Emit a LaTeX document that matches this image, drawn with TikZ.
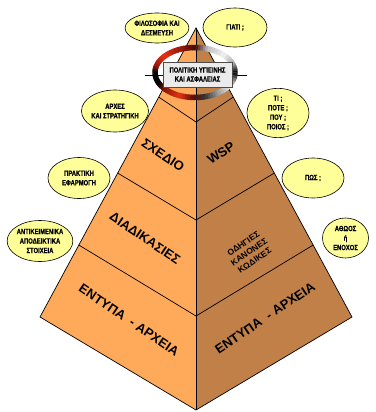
\documentclass[tikz,border=0pt]{standalone}
\usepackage{fontspec}
\setmainfont{Liberation Sans}
\newfontfamily\nar[FakeStretch=0.78, BoldFeatures={FakeBold=0.6}]{Liberation Sans}
\usetikzlibrary{shapes.geometric,calc}
\definecolor{lface}{RGB}{255,170,90}
\definecolor{rface}{RGB}{192,128,72}
\definecolor{yel}{RGB}{255,255,153}
\definecolor{rred}{RGB}{228,50,20}
\definecolor{dred}{RGB}{150,25,10}
\tikzset{
  lbl/.style={ellipse, draw=black, line width=0.6pt, fill=yel, inner sep=0pt,
    font=\nar\bfseries\fontsize{7.5}{9.5}\selectfont, align=center},
  big/.style={font=\bfseries\fontsize{13}{15}\selectfont, inner sep=0pt},
  mid/.style={font=\bfseries\fontsize{8.5}{10}\selectfont, align=center, inner sep=0pt},
  edge/.style={draw=black, line width=0.7pt},
}
\begin{document}
\begin{tikzpicture}[x=1pt,y=-1pt]
\useasboundingbox (0,0) rectangle (375,412);
% pyramid corners
\coordinate (A) at (196,28);
\coordinate (L) at (40,317);
\coordinate (B) at (196,410);
\coordinate (R) at (352,317);
\coordinate (c1) at (196,122);
\coordinate (c2) at (196,220);
\coordinate (c3) at (196,316);
\coordinate (p1) at ($(A)!0.239!(L)$);
\coordinate (p2) at ($(A)!0.502!(L)$);
\coordinate (p3) at ($(A)!0.751!(L)$);
\coordinate (q1) at ($(A)!0.239!(R)$);
\coordinate (q2) at ($(A)!0.502!(R)$);
\coordinate (q3) at ($(A)!0.751!(R)$);
\fill[lface] (A) -- (L) -- (B) -- cycle;
\fill[rface] (A) -- (R) -- (B) -- cycle;
\draw[edge, line join=miter] (A) -- (L) -- (B) -- (R) -- cycle;
\draw[edge] (A) -- (B);
\draw[edge] (p1) -- (c1) -- (q1);
\draw[edge] (p2) -- (c2) -- (q2);
\draw[edge] (p3) -- (c3) -- (q3);
% texts on faces
\node[big, rotate=-34] (t1) at (163,155) {ΣΧΕΔΙΟ};
\node[big, rotate=34] (t2) at (221,153) {WSP};
\node[big, rotate=-34] (t3) at (145,238) {ΔΙΑΔΙΚΑΣΙΕΣ};
\node[mid, rotate=34] (t4) at (249,252) {ΟΔΗΓΙΕΣ\\ΚΑΝΟΝΕΣ\\ΚΩΔΙΚΕΣ};
\node[big, rotate=-34] (t5) at (129,320) {ΕΝΤΥΠΑ\hspace{0.3em} - ΑΡΧΕΙΑ};
\node[big, rotate=34] (t6) at (265,318) {ΕΝΤΥΠΑ\hspace{0.3em} - ΑΡΧΕΙΑ};
% ring
\coordinate (hl) at (145,75);
\coordinate (hr) at (247,75);
\draw[black, line width=0.8pt] (hl) -- (hr);
\foreach \a/\b/\ca/\cb in {
  0/20/black/black!35,
  20/45/black!35/black!5,
  45/72/black!5/black!25,
  72/90/black!25/dred!40!black,
  90/110/dred!40!black/dred,
  110/140/dred/rred,
  140/165/rred/dred,
  165/182/dred/black,
  182/205/black/black,
  205/225/black/dred,
  225/248/dred/rred,
  248/268/rred/dred!60!black,
  268/285/dred!60!black/black!80,
  285/305/black!80/black!40,
  305/330/black!40/black!5,
  330/360/black!5/black} {
  \colorlet{cola}{\ca}
  \colorlet{colb}{\cb}
  \foreach \i in {0,...,4} {
    \pgfmathsetmacro\s{\a+(\b-\a)*\i/5-0.4}
    \pgfmathsetmacro\e{\a+(\b-\a)*(\i+1)/5+0.4}
    \pgfmathtruncatemacro\p{100*(\i+0.5)/5}
    \colorlet{segc}{colb!\p!cola}
    \draw[segc, line width=5.5pt] plot[domain=\s:\e, samples=4, smooth] ({195+40*cos(\x)},{72.5-25*sin(\x)});
  }
}
\node[draw=black!70, line width=0.7pt, fill=black!8, minimum width=69pt, minimum height=25pt,
  inner sep=0pt, align=center, font=\nar\bfseries\fontsize{7.5}{9}\selectfont] (box) at (197.5,74.5)
  {ΠΟΛΙΤΙΚΗ ΥΓΙΕΙΝΗΣ\\ΚΑΙ ΑΣΦΑΛΕΙΑΣ};
% ellipses
\node[lbl, minimum width=62pt, minimum height=30pt] (e1) at (157,28) {ΦΙΛΟΣΟΦΙΑ ΚΑΙ\\ΔΕΣΜΕΥΣΗ};
\node[lbl, minimum width=64pt, minimum height=39pt] (e2) at (235,27.5) {ΓΙΑΤΙ ;};
\node[lbl, minimum width=62pt, minimum height=42pt] (e3) at (115,111) {ΑΡΧΕΣ\\ΚΑΙ ΣΤΡΑΤΗΓΙΚΗ};
\node[lbl, minimum width=62pt, minimum height=41pt] (e4) at (79,178) {ΠΡΑΚΤΙΚΗ\\ΕΦΑΡΜΟΓΗ};
\node[lbl, minimum width=62pt, minimum height=41pt] (e5) at (40,241) {ΑΝΤΙΚΕΙΜΕΝΙΚΑ\\ΑΠΟΔΕΙΚΤΙΚΑ\\ΣΤΟΙΧΕΙΑ};
\node[lbl, minimum width=62pt, minimum height=47pt] (e6) at (278,113) {ΤΙ ;\\ΠΟΤΕ ;\\ΠΟΥ ;\\ΠΟΙΟΣ ;};
\node[lbl, minimum width=62pt, minimum height=40pt] (e7) at (313,178) {ΠΩΣ ;};
\node[lbl, minimum width=46pt, minimum height=40pt] (e8) at (345.5,238) {ΑΘΩΟΣ\\ή\\ΕΝΟΧΟΣ};
\end{tikzpicture}
\end{document}
